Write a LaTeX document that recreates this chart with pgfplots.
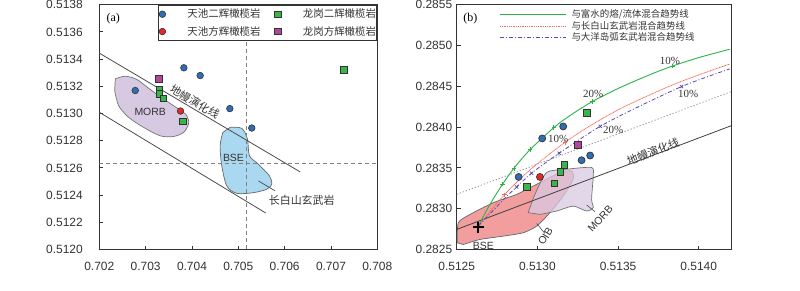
\documentclass[border=0pt]{standalone}
\usepackage{fontspec}
\setmainfont{Liberation Sans}
\newfontfamily\cjk{Noto Sans CJK SC}
\newfontfamily\serif{Liberation Serif}
\usepackage{pgfplots}
\pgfplotsset{compat=1.18}
\definecolor{cblue}{HTML}{2F6DB5}
\definecolor{cred}{HTML}{E8262A}
\definecolor{cgreen}{HTML}{3AB54A}
\definecolor{cpurp}{HTML}{B0479A}
\definecolor{morbA}{HTML}{D8C9E2}
\definecolor{bseA}{HTML}{A9D8F0}
\definecolor{oib}{HTML}{F29E9E}
\definecolor{lgreen}{HTML}{2DB24A}
\definecolor{lred}{HTML}{F26B5B}
\definecolor{lpurp}{HTML}{5B45B0}
\definecolor{txt}{HTML}{333333}
\newcommand{\sups}[1]{\raisebox{0.5em}{\fontsize{7}{8}\selectfont #1}}
\newcommand{\lega}[1]{\makebox[71bp][l]{\cjk\fontsize{10.5}{12}\selectfont #1}}
\newcommand{\legb}[1]{{\cjk\fontsize{9.5}{10}\selectfont #1}}
\pgfplotsset{base/.style={scale only axis, height=244.8bp,
  axis line style={line width=0.9bp, black!80},
  tick align=inside, tick pos=left, major tick length=4bp,
  tick style={black!80, line width=0.8bp},
  scaled ticks=false,
  ticklabel style={font=\fontsize{12}{14}\selectfont, text=txt},
  /pgf/number format/assume math mode=true,
  xticklabel style={yshift=-9bp},
}}
\begin{document}
\begin{tikzpicture}
\useasboundingbox (0,0) rectangle (800bp,291bp);
% ================= panel (a)
\begin{axis}[base, at={(99.3bp,41.5bp)}, anchor=south west, width=278bp,
  xmin=0.702, xmax=0.708, ymin=0.5120, ymax=0.5138,
  xtick={0.702,0.703,0.704,0.705,0.706,0.707,0.708},
  ytick={0.5120,0.5122,0.5124,0.5126,0.5128,0.5130,0.5132,0.5134,0.5136,0.5138},
  xticklabel style={/pgf/number format/.cd,fixed,fixed zerofill,precision=3},
  yticklabel style={xshift=-13bp,/pgf/number format/.cd,fixed,fixed zerofill,precision=4},
  legend columns=2,
  legend style={at={(rel axis cs:1,1)}, anchor=north east, draw=black!80, line width=0.8bp,
    fill=white, text=txt,
    inner xsep=1bp, inner ysep=2bp, row sep=3bp,
    /tikz/every even column/.append style={column sep=14.3bp}},
  legend cell align=left,
  legend image code/.code={\path[draw=none,fill=none] (0bp,-0.1bp) rectangle (25bp,0.1bp); \draw[#1] plot coordinates {(2bp,0bp)};},
]
\addlegendimage{only marks, mark=*, mark size=3.3bp, mark options={fill=cblue, draw=black!80, line width=0.6bp}}
\addlegendentry{\lega{天池二辉橄榄岩}}
\addlegendimage{only marks, mark=square*, mark size=3.2bp, mark options={fill=cgreen, draw=black!80, line width=0.6bp}}
\addlegendentry{\lega{龙岗二辉橄榄岩}}
\addlegendimage{only marks, mark=*, mark size=3.3bp, mark options={fill=cred, draw=black!80, line width=0.6bp}}
\addlegendentry{\lega{天池方辉橄榄岩}}
\addlegendimage{only marks, mark=square*, mark size=3.2bp, mark options={fill=cpurp, draw=black!80, line width=0.6bp}}
\addlegendentry{\lega{龙岗方辉橄榄岩}}
% MORB field
\addplot[forget plot, fill=morbA, draw=black!55, line width=0.7bp, smooth, tension=0.5] coordinates {
(0.702345,0.513255)(0.702560,0.513274)(0.702812,0.513250)(0.703063,0.513186)(0.703387,0.513107)
(0.703710,0.513033)(0.703890,0.512984)(0.703926,0.512923)(0.703818,0.512861)(0.703602,0.512831)
(0.703315,0.512836)(0.702956,0.512898)(0.702632,0.512972)(0.702417,0.513058)(0.702331,0.513169)} -- cycle;
% BSE field
\addplot[forget plot, fill=bseA, draw=black!60, line width=0.7bp, smooth, tension=0.5] coordinates {
(0.704824,0.512898)(0.705075,0.512891)(0.705198,0.512812)(0.705241,0.512689)(0.705435,0.512627)
(0.705672,0.512541)(0.705722,0.512480)(0.705614,0.512443)(0.705327,0.512418)(0.704968,0.512413)
(0.704752,0.512467)(0.704644,0.512615)(0.704608,0.512763)(0.704666,0.512861)} -- cycle;
% dashed reference lines
\addplot[forget plot, black!50, line width=0.7bp, dash pattern=on 4bp off 3bp] coordinates {(0.705169,0.5120)(0.705169,0.5138)};
\addplot[forget plot, black!50, line width=0.7bp, dash pattern=on 4bp off 3bp] coordinates {(0.702,0.512632)(0.708,0.512632)};
% mantle array lines
\addplot[forget plot, black!70, line width=0.8bp] coordinates {(0.702,0.513444)(0.706333,0.512571)};
\addplot[forget plot, black!70, line width=0.8bp] coordinates {(0.702,0.513009)(0.705593,0.512268)};
\addplot[forget plot, black!70, line width=0.7bp] coordinates {(0.705435,0.512504)(0.705794,0.512431)};
% data
\addplot[forget plot, only marks, mark=*, mark size=3.3bp, mark options={fill=cblue, draw=black!80, line width=0.6bp}] coordinates {
(0.702776,0.513169)(0.703825,0.513336)(0.704177,0.513279)(0.704817,0.513036)(0.705291,0.512893)};
\addplot[forget plot, only marks, mark=*, mark size=3.3bp, mark options={fill=cred, draw=black!80, line width=0.6bp}] coordinates {
(0.703753,0.513018)};
\addplot[forget plot, only marks, mark=square*, mark size=3.2bp, mark options={fill=cpurp, draw=black!80, line width=0.6bp}] coordinates {
(0.703286,0.513255)};
\addplot[forget plot, only marks, mark=square*, mark size=3.2bp, mark options={fill=cgreen, draw=black!80, line width=0.6bp}] coordinates {
(0.703301,0.513176)(0.703300,0.513144)(0.703387,0.513112)(0.703804,0.512942)(0.707274,0.513321)};
% labels
\node[text=txt, font=\fontsize{10.5}{12}\selectfont] at (axis cs:0.703099,0.513014) {MORB};
\node[text=txt, font=\fontsize{10.5}{12}\selectfont] at (axis cs:0.704896,0.512677) {BSE};
\node[text=txt, font={\cjk\fontsize{11}{12}\selectfont}, rotate=-30.5] at (axis cs:0.704069,0.513085) {地幔演化线};
\node[text=txt, font={\cjk\fontsize{11}{12}\selectfont}] at (axis cs:0.706369,0.512359) {长白山玄武岩};
\node[text=black, font={\serif\fontsize{12}{14}\selectfont}] at (rel axis cs:0.05,0.943) {(a)};
\node[text=txt, font=\fontsize{13}{15}\selectfont] at (rel axis cs:0.5,0) [yshift=-33bp] {\sups{87}Sr/\sups{86}Sr};
\node[text=txt, font=\fontsize{13}{15}\selectfont] at (rel axis cs:0,0.5) [xshift=-62bp, rotate=90] {\sups{143}Nd/\sups{144}Nd};
\end{axis}
% ================= panel (b)
\begin{axis}[base, at={(456.7bp,41.5bp)}, anchor=south west, width=274.3bp,
  xmin=0.5125, xmax=0.51420, ymin=0.2825, ymax=0.2855,
  xtick={0.5125,0.5130,0.5135,0.5140},
  ytick={0.2825,0.2830,0.2835,0.2840,0.2845,0.2850,0.2855},
  xticklabel style={/pgf/number format/.cd,fixed,fixed zerofill,precision=4},
  yticklabel style={xshift=-1bp,/pgf/number format/.cd,fixed,fixed zerofill,precision=4},
  legend style={at={(rel axis cs:0.155,0.982)}, anchor=north west, draw=none, fill=none,
    text=txt, inner sep=0bp, row sep=1bp, nodes={inner ysep=0.5bp, inner xsep=5bp}},
  legend cell align=left,
  legend image code/.code={\draw[#1] (0bp,0bp) -- (66bp,0bp);},
]
\addlegendimage{color=lgreen, line width=1.1bp}
\addlegendentry{\legb{与富水的熔/流体混合趋势线}}
\addlegendimage{color=lred, line width=1bp, dash pattern=on 1bp off 0.8bp}
\addlegendentry{\legb{与长白山玄武岩混合趋势线}}
\addlegendimage{color=lpurp, line width=1bp, dash pattern=on 4bp off 2bp on 1bp off 2bp}
\addlegendentry{\legb{与大洋岛弧玄武岩混合趋势线}}
% OIB
\addplot[forget plot, fill=oib, draw=black!60, line width=0.7bp, smooth, tension=0.4] coordinates {
(0.512504,0.282582)(0.512510,0.282828)(0.512583,0.282930)(0.512727,0.283074)(0.512872,0.283176)
(0.513016,0.283320)(0.513140,0.283443)(0.513212,0.283463)(0.513222,0.283361)(0.513160,0.283155)
(0.513078,0.282951)(0.512995,0.282786)(0.512912,0.282705)(0.512789,0.282664)(0.512644,0.282623)
(0.512541,0.282561)} -- cycle;
% MORB
\addplot[forget plot, fill=morbA, fill opacity=0.75, draw=black!55, line width=0.7bp, smooth, tension=0.4] coordinates {
(0.512943,0.282951)(0.512985,0.283176)(0.513057,0.283443)(0.513181,0.283484)(0.513336,0.283505)
(0.513346,0.283401)(0.513336,0.283115)(0.513346,0.283013)(0.513305,0.282971)(0.513222,0.283032)
(0.513119,0.282971)(0.513016,0.282930)} -- cycle;
% mantle line and grey dotted reference
\addplot[forget plot, black!75, line width=0.8bp] coordinates {(0.5125,0.282746)(0.51420,0.284016)};
\addplot[forget plot, black!45, line width=0.8bp, dash pattern=on 1.2bp off 2bp] coordinates {(0.5125,0.283176)(0.51420,0.284434)};
% leaders
\addplot[forget plot, black!70, line width=0.6bp] coordinates {(0.512995,0.282819)(0.513047,0.282696)};
\addplot[forget plot, black!70, line width=0.6bp] coordinates {(0.513305,0.283046)(0.513356,0.282964)};
% mixing curves
\addplot[forget plot, lgreen, line width=0.9bp, smooth] coordinates {
(0.512634,0.282787)(0.512706,0.283052)(0.512785,0.283302)(0.512855,0.283496)(0.512954,0.283722)
(0.513102,0.283994)(0.513202,0.284141)(0.513342,0.284315)(0.513511,0.284483)(0.513697,0.284642)
(0.513837,0.284748)(0.514006,0.284855)(0.514192,0.284954)};
\addplot[forget plot, lred, line width=0.8bp, dash pattern=on 1bp off 0.6bp, smooth] coordinates {
(0.512634,0.282787)(0.512795,0.283170)(0.512974,0.283509)(0.513171,0.283813)(0.513325,0.284014)
(0.513531,0.284242)(0.513862,0.284537)(0.514192,0.284773)};
\addplot[forget plot, lpurp, line width=0.8bp, dash pattern=on 4bp off 2bp on 1bp off 2bp, smooth] coordinates {
(0.512634,0.282787)(0.512804,0.283139)(0.512872,0.283266)(0.512964,0.283435)
(0.513135,0.283680)(0.513389,0.284009)(0.513635,0.284258)(0.513893,0.284496)
(0.514068,0.284627)(0.514192,0.284713)};
% tick marks on the curves
\addplot[forget plot, only marks, mark=+, mark size=2.3bp, lgreen, mark options={line width=0.7bp}] coordinates {
(0.512785,0.283302)(0.512855,0.283496)(0.512954,0.283722)(0.513102,0.283994)(0.513342,0.284315)(0.513837,0.284748)};
\addplot[forget plot, only marks, mark=+, mark size=2.3bp, lred, mark options={line width=0.7bp}] coordinates {
(0.512795,0.283170)(0.513171,0.283813)};
\addplot[forget plot, only marks, mark=x, mark size=2.3bp, lpurp, mark options={line width=0.7bp}] coordinates {
(0.512872,0.283266)(0.512964,0.283435)(0.513135,0.283680)(0.513389,0.284009)(0.513893,0.284496)};
% BSE
\addplot[forget plot, only marks, mark=+, mark size=5.5bp, black, mark options={line width=2bp}] coordinates {(0.512634,0.282770)};
% data
\addplot[forget plot, only marks, mark=*, mark size=3.5bp, mark options={fill=cblue, draw=black!80, line width=0.7bp}] coordinates {
(0.512884,0.283389)(0.513030,0.283861)(0.513160,0.284008)(0.513274,0.283594)(0.513327,0.283652)};
\addplot[forget plot, only marks, mark=*, mark size=3.5bp, mark options={fill=cred, draw=black!80, line width=0.7bp}] coordinates {
(0.513016,0.283389)};
\addplot[forget plot, only marks, mark=square*, mark size=3.4bp, mark options={fill=cgreen, draw=black!80, line width=0.7bp}] coordinates {
(0.512935,0.283270)(0.513105,0.283311)(0.513142,0.283455)(0.513167,0.283533)(0.513309,0.284176)};
\addplot[forget plot, only marks, mark=square*, mark size=3.4bp, mark options={fill=cpurp, draw=black!80, line width=0.7bp}] coordinates {
(0.513249,0.283783)};
% labels
\node[text=txt, font=\fontsize{10.5}{12}\selectfont] at (axis cs:0.512665,0.282549) {BSE};
\node[text=txt, font=\fontsize{10.5}{12}\selectfont, rotate=58] at (axis cs:0.513050,0.282660) {OIB};
\node[text=txt, font=\fontsize{10.5}{12}\selectfont, rotate=48] at (axis cs:0.513390,0.282880) {MORB};
\node[text=txt, font={\cjk\fontsize{11}{12}\selectfont}, rotate=21] at (axis cs:0.513717,0.283700) {地幔演化线};
\node[text=txt, font={\serif\fontsize{11}{12}\selectfont}] at (axis cs:0.513821,0.284815) {10\%};
\node[text=txt, font={\serif\fontsize{11}{12}\selectfont}] at (axis cs:0.513346,0.284406) {20\%};
\node[text=txt, font={\serif\fontsize{11}{12}\selectfont}] at (axis cs:0.513129,0.283861) {10\%};
\node[text=txt, font={\serif\fontsize{11}{12}\selectfont}] at (axis cs:0.513470,0.283967) {20\%};
\node[text=txt, font={\serif\fontsize{11}{12}\selectfont}] at (axis cs:0.513934,0.284406) {10\%};
\node[text=black, font={\serif\fontsize{12}{14}\selectfont}] at (rel axis cs:0.05,0.943) {(b)};
\node[text=txt, font=\fontsize{13}{15}\selectfont] at (rel axis cs:0.5,0) [yshift=-33bp] {\sups{143}Nd/\sups{144}Nd};
\node[text=txt, font=\fontsize{13}{15}\selectfont] at (rel axis cs:0,0.5) [xshift=-53.4bp, rotate=90] {\sups{176}Hf/\sups{177}Hf};
\end{axis}
\end{tikzpicture}
\end{document}
